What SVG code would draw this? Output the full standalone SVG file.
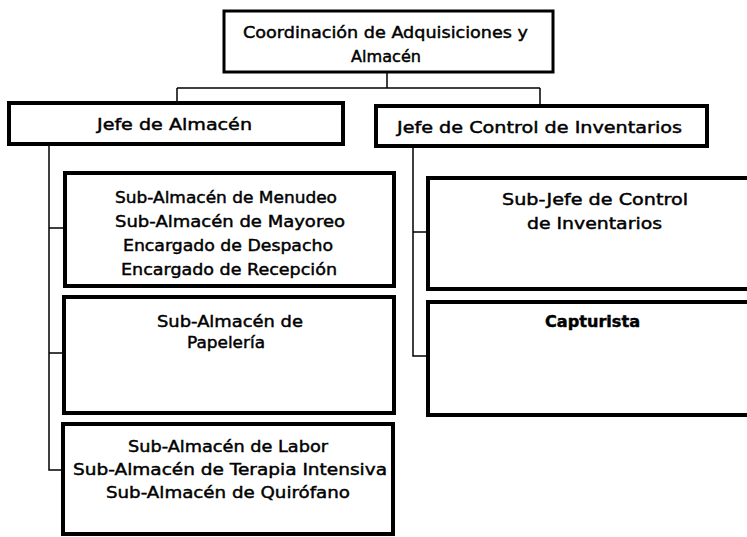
<svg xmlns="http://www.w3.org/2000/svg" width="747" height="537" viewBox="0 0 747 537">
<style>
.box{fill:#fff;stroke:#000;stroke-width:4}
.thin{fill:#fff;stroke:#000;stroke-width:3}
.conn{fill:none;stroke:#000;stroke-width:1.5}
text{font-family:"DejaVu Sans","Liberation Sans",sans-serif;font-size:16px;fill:#000;stroke:#000;stroke-width:0.45;text-anchor:middle}
</style>
<rect width="747" height="537" fill="#fff"/>
<g id="connectors">
<path class="conn" d="M387 72V88M177 88H540M177 88V103M540 88V106"/>
<path class="conn" d="M49 144V470H63M49 228H65M49 353H64"/>
<path class="conn" d="M413 146V356H428M413 232H428"/>
</g>
<g id="coord">
<rect class="thin" x="224" y="11" width="329" height="61"/>
<text x="385.5" y="38" textLength="285" lengthAdjust="spacingAndGlyphs">Coordinación de Adquisiciones y</text>
<text x="386" y="62" textLength="70" lengthAdjust="spacingAndGlyphs">Almacén</text>
</g>
<g id="jefe-almacen">
<rect class="box" x="9" y="103" width="334" height="41"/>
<text x="174.5" y="130" textLength="155" lengthAdjust="spacingAndGlyphs">Jefe de Almacén</text>
</g>
<g id="jefe-control">
<rect class="box" x="376" y="106" width="331" height="40"/>
<text x="539.5" y="133" textLength="285" lengthAdjust="spacingAndGlyphs">Jefe de Control de Inventarios</text>
</g>
<g id="sub-almacenes-1">
<rect class="box" x="65" y="173" width="329" height="113"/>
<text x="226" y="203" textLength="222" lengthAdjust="spacingAndGlyphs">Sub-Almacén de Menudeo</text>
<text x="230" y="227" textLength="230" lengthAdjust="spacingAndGlyphs">Sub-Almacén de Mayoreo</text>
<text x="228" y="251" textLength="210" lengthAdjust="spacingAndGlyphs">Encargado de Despacho</text>
<text x="229" y="275" textLength="216" lengthAdjust="spacingAndGlyphs">Encargado de Recepción</text>
</g>
<g id="papeleria">
<rect class="box" x="64" y="297" width="330" height="116"/>
<text x="230" y="327" textLength="146" lengthAdjust="spacingAndGlyphs">Sub-Almacén de</text>
<text x="226" y="348" textLength="78" lengthAdjust="spacingAndGlyphs">Papelería</text>
</g>
<g id="sub-almacenes-2">
<rect class="box" x="63" y="424" width="330" height="110"/>
<text x="228" y="452" textLength="200" lengthAdjust="spacingAndGlyphs">Sub-Almacén de Labor</text>
<text x="230" y="475" textLength="314" lengthAdjust="spacingAndGlyphs">Sub-Almacén de Terapia Intensiva</text>
<text x="228" y="498" textLength="244" lengthAdjust="spacingAndGlyphs">Sub-Almacén de Quirófano</text>
</g>
<g id="sub-jefe">
<rect class="box" x="428" y="178" width="340" height="111"/>
<text x="595" y="205" textLength="186" lengthAdjust="spacingAndGlyphs">Sub-Jefe de Control</text>
<text x="594.5" y="229" textLength="135" lengthAdjust="spacingAndGlyphs">de Inventarios</text>
</g>
<g id="capturista">
<rect class="box" x="428" y="302" width="340" height="113"/>
<text x="592.5" y="327" textLength="95" lengthAdjust="spacingAndGlyphs" style="font-weight:bold">Capturista</text>
</g>
</svg>
